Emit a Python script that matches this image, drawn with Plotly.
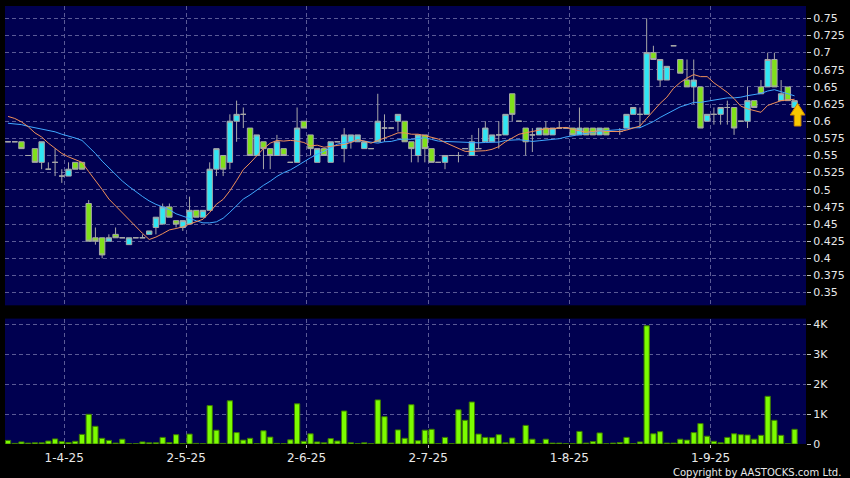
import plotly.graph_objects as go

# ---------------- data ----------------
opens = [0.57,0.57,0.57,0.55,0.56,0.54,0.53,0.54,0.52,0.52,0.54,0.54,0.48,0.43,0.43,0.425,0.435,0.43,0.42,0.43,
         0.43,0.435,0.445,0.45,0.475,0.455,0.445,0.45,0.47,0.46,0.47,0.53,0.55,0.54,0.60,0.61,0.59,0.55,0.57,0.56,
         0.55,0.56,0.54,0.54,0.60,0.58,0.54,0.56,0.54,0.57,0.56,0.57,0.57,0.56,0.56,0.57,0.59,0.59,0.60,0.60,
         0.57,0.55,0.58,0.56,0.54,0.54,0.55,0.55,0.56,0.55,0.56,0.57,0.57,0.58,0.58,0.64,0.60,0.59,0.58,0.58,
         0.59,0.58,0.59,0.59,0.59,0.58,0.59,0.59,0.58,0.59,0.585,0.585,0.59,0.61,0.61,0.61,0.70,0.66,0.66,0.71,
         0.69,0.66,0.65,0.65,0.60,0.61,0.61,0.62,0.62,0.60,0.60,0.63,0.65,0.65,0.69,0.63,0.65,0.62]
highs = [0.57,0.57,0.57,0.55,0.56,0.57,0.54,0.56,0.53,0.54,0.54,0.54,0.485,0.445,0.43,0.435,0.445,0.43,0.43,0.43,
         0.435,0.44,0.46,0.48,0.48,0.455,0.455,0.49,0.47,0.47,0.54,0.56,0.55,0.61,0.63,0.62,0.59,0.58,0.57,0.56,
         0.58,0.56,0.54,0.62,0.60,0.58,0.56,0.56,0.57,0.57,0.59,0.58,0.58,0.57,0.56,0.64,0.61,0.59,0.61,0.60,
         0.57,0.58,0.58,0.56,0.54,0.55,0.55,0.555,0.56,0.58,0.59,0.60,0.58,0.60,0.61,0.64,0.60,0.59,0.59,0.59,
         0.60,0.59,0.60,0.59,0.59,0.62,0.59,0.59,0.59,0.59,0.585,0.59,0.61,0.62,0.62,0.75,0.71,0.69,0.68,0.71,
         0.69,0.69,0.69,0.65,0.61,0.62,0.62,0.63,0.62,0.60,0.65,0.63,0.66,0.70,0.70,0.66,0.65,0.63]
lows = [0.57,0.57,0.56,0.55,0.54,0.53,0.53,0.52,0.51,0.52,0.53,0.53,0.425,0.42,0.40,0.425,0.43,0.43,0.42,0.43,
        0.43,0.435,0.435,0.45,0.46,0.445,0.44,0.45,0.46,0.46,0.47,0.52,0.52,0.53,0.57,0.59,0.55,0.55,0.53,0.53,
        0.55,0.55,0.54,0.54,0.59,0.55,0.54,0.55,0.54,0.57,0.54,0.56,0.57,0.56,0.56,0.57,0.57,0.59,0.585,0.57,
        0.54,0.54,0.54,0.54,0.54,0.53,0.55,0.54,0.56,0.55,0.56,0.57,0.57,0.56,0.58,0.60,0.60,0.55,0.555,0.58,
        0.58,0.58,0.59,0.59,0.58,0.58,0.58,0.58,0.58,0.58,0.585,0.58,0.59,0.61,0.59,0.61,0.69,0.65,0.66,0.71,
        0.67,0.65,0.625,0.59,0.60,0.595,0.595,0.595,0.58,0.60,0.59,0.62,0.64,0.65,0.65,0.63,0.63,0.62]
closes = [0.57,0.57,0.56,0.55,0.54,0.57,0.53,0.54,0.52,0.53,0.53,0.53,0.425,0.425,0.405,0.43,0.43,0.43,0.43,0.43,
          0.43,0.44,0.46,0.475,0.46,0.45,0.455,0.47,0.46,0.47,0.53,0.56,0.53,0.60,0.61,0.61,0.55,0.58,0.56,0.55,
          0.57,0.55,0.54,0.59,0.59,0.56,0.56,0.55,0.57,0.57,0.58,0.58,0.58,0.57,0.56,0.60,0.59,0.59,0.61,0.57,
          0.56,0.58,0.56,0.54,0.54,0.55,0.55,0.55,0.56,0.57,0.56,0.59,0.58,0.58,0.61,0.61,0.60,0.57,0.58,0.59,
          0.58,0.59,0.59,0.59,0.58,0.59,0.58,0.58,0.59,0.58,0.585,0.585,0.61,0.62,0.61,0.70,0.69,0.69,0.68,0.71,
          0.67,0.65,0.66,0.59,0.61,0.61,0.62,0.62,0.59,0.60,0.63,0.62,0.64,0.69,0.65,0.64,0.63,0.63]
# volume in thousands of shares
vol_k = [0.12,0.02,0.07,0.03,0.04,0.04,0.10,0.17,0.08,0.05,0.09,0.32,0.99,0.59,0.19,0.12,0.03,0.16,0.01,0.01,
         0.07,0.04,0.04,0.22,0.05,0.31,0.01,0.33,0.02,0.01,1.28,0.46,0.02,1.44,0.38,0.13,0.19,0.01,0.44,0.23,
         0.02,0.01,0.14,1.34,0.09,0.34,0.07,0.04,0.18,0.10,1.10,0.04,0.01,0.04,0.01,1.47,0.91,0.03,0.47,0.19,
         1.31,0.11,0.46,0.49,0.01,0.22,0.01,1.14,0.79,1.40,0.33,0.22,0.21,0.31,0.04,0.20,0.01,0.62,0.16,0.01,
         0.16,0.03,0.03,0.01,0.01,0.42,0.03,0.08,0.37,0.01,0.03,0.05,0.22,0.01,0.07,3.94,0.34,0.41,0.03,0.03,
         0.16,0.13,0.38,0.68,0.26,0.09,0.04,0.22,0.34,0.31,0.30,0.16,0.29,1.59,0.79,0.29,0.01,0.49]
# closes before the visible window (only feed the moving averages)
prior_closes = [0.58,0.59,0.60,0.58,0.59,0.58,0.59,0.59,0.58,0.59,
                0.60,0.61,0.62,0.63,0.63,0.62,0.62,0.59,0.58]

x_tick_pos = [8.35, 26.5, 44.4, 62.5, 83.5, 104.5]
x_tick_text = ["1-4-25", "2-5-25", "2-6-25", "2-7-25", "1-8-25", "1-9-25"]
price_ticks = [0.35, 0.375, 0.4, 0.425, 0.45, 0.475, 0.5, 0.525, 0.55, 0.575,
               0.6, 0.625, 0.65, 0.675, 0.7, 0.725, 0.75]
vol_ticks = [0, 1, 2, 3, 4]
vol_tick_text = ["0", "1K", "2K", "3K", "4K"]

# ---------------- derived ----------------
idx = list(range(len(closes)))
allc = prior_closes + closes
off = len(prior_closes)

def moving_avg(n):
    return [sum(allc[off + i - n + 1: off + i + 1]) / n for i in idx]

ma10 = moving_avg(10)
ma20 = moving_avg(20)

def fmt(v):
    return ("%.3f" % v).rstrip("0").rstrip(".")

BG = "#000000"
PLOT = "#000050"
GRID = "#5a5a96"
TXT = "#e8e8e8"
CYAN = "#30e6f4"
GREEN = "#80e01a"
WICK = "#a8a8a8"

fig = go.Figure()

fig.add_trace(go.Candlestick(
    x=idx, open=opens, high=highs, low=lows, close=closes,
    increasing=dict(fillcolor=CYAN, line=dict(color=WICK, width=1)),
    decreasing=dict(fillcolor=GREEN, line=dict(color=WICK, width=1)),
    whiskerwidth=0, xaxis="x", yaxis="y", showlegend=False, hoverinfo="skip"))

fig.add_trace(go.Scatter(x=idx, y=ma20, mode="lines", line=dict(color="#3fa8ff", width=1),
                         xaxis="x", yaxis="y", showlegend=False, hoverinfo="skip"))
fig.add_trace(go.Scatter(x=idx, y=ma10, mode="lines", line=dict(color="#f0905a", width=1),
                         xaxis="x", yaxis="y", showlegend=False, hoverinfo="skip"))

fig.add_trace(go.Bar(x=idx, y=vol_k, marker=dict(color="#7cfc00", line=dict(color="#3c7a00", width=1)),
                     width=0.78, xaxis="x2", yaxis="y2", showlegend=False, hoverinfo="skip"))

# up-arrow marker under the latest candle
li = idx[-1]
lc = closes[-1]
ax = li + 0.45
tip, base, bot = lc - 0.004, lc - 0.021, lc - 0.037
hw, sw = 1.1, 0.5
path = (f"M {ax},{tip} L {ax+hw},{base} L {ax+sw},{base} L {ax+sw},{bot} "
        f"L {ax-sw},{bot} L {ax-sw},{base} L {ax-hw},{base} Z")
fig.add_shape(type="path", path=path, xref="x", yref="y",
              fillcolor="#f8c800", line=dict(color="#d08a00", width=1))

xr = [-0.45, 118.7]
common_x = dict(range=xr, showgrid=True, gridcolor=GRID, griddash="4px,3px", gridwidth=1,
                zeroline=False, showline=False, tickvals=x_tick_pos, ticktext=x_tick_text,
                fixedrange=True)

fig.update_layout(
    width=850, height=478,
    paper_bgcolor=BG, plot_bgcolor=PLOT,
    margin=dict(l=5, r=42, t=5, b=34),
    font=dict(family="DejaVu Sans", size=11, color=TXT),
    boxgap=0.2, boxgroupgap=0,
    bargap=0.2,
    xaxis=dict(common_x, anchor="y", showticklabels=False, ticks="", rangeslider=dict(visible=False)),
    xaxis2=dict(common_x, anchor="y2", matches="x", showticklabels=True, ticks="outside",
                ticklen=3, tickcolor="#c0c0c0", tickfont=dict(size=12, color=TXT)),
    yaxis=dict(domain=[0.3166, 1.0], range=[0.3315, 0.768], side="right",
               tickvals=price_ticks, ticktext=[fmt(v) for v in price_ticks],
               showgrid=True, gridcolor=GRID, griddash="4px,3px", zeroline=False,
               ticks="outside", ticklen=4, tickcolor="#c0c0c0", fixedrange=True),
    yaxis2=dict(domain=[0.0, 0.2863], range=[0, 4.18], side="right",
                tickvals=vol_ticks, ticktext=vol_tick_text,
                showgrid=True, gridcolor=GRID, griddash="4px,3px", zeroline=False,
                ticks="outside", ticklen=4, tickcolor="#c0c0c0", fixedrange=True),
)

fig.add_annotation(text="Copyright by AASTOCKS.com Ltd.", xref="paper", yref="paper",
                   x=1.046, y=-0.066, xanchor="right", yanchor="middle", showarrow=False,
                   font=dict(family="DejaVu Sans", size=10, color=TXT))

fig.write_html("out.html", config={"displayModeBar": False},
               post_script="document.body.style.margin='0';document.body.style.padding='0';"
                           "document.body.style.background='#000';")
